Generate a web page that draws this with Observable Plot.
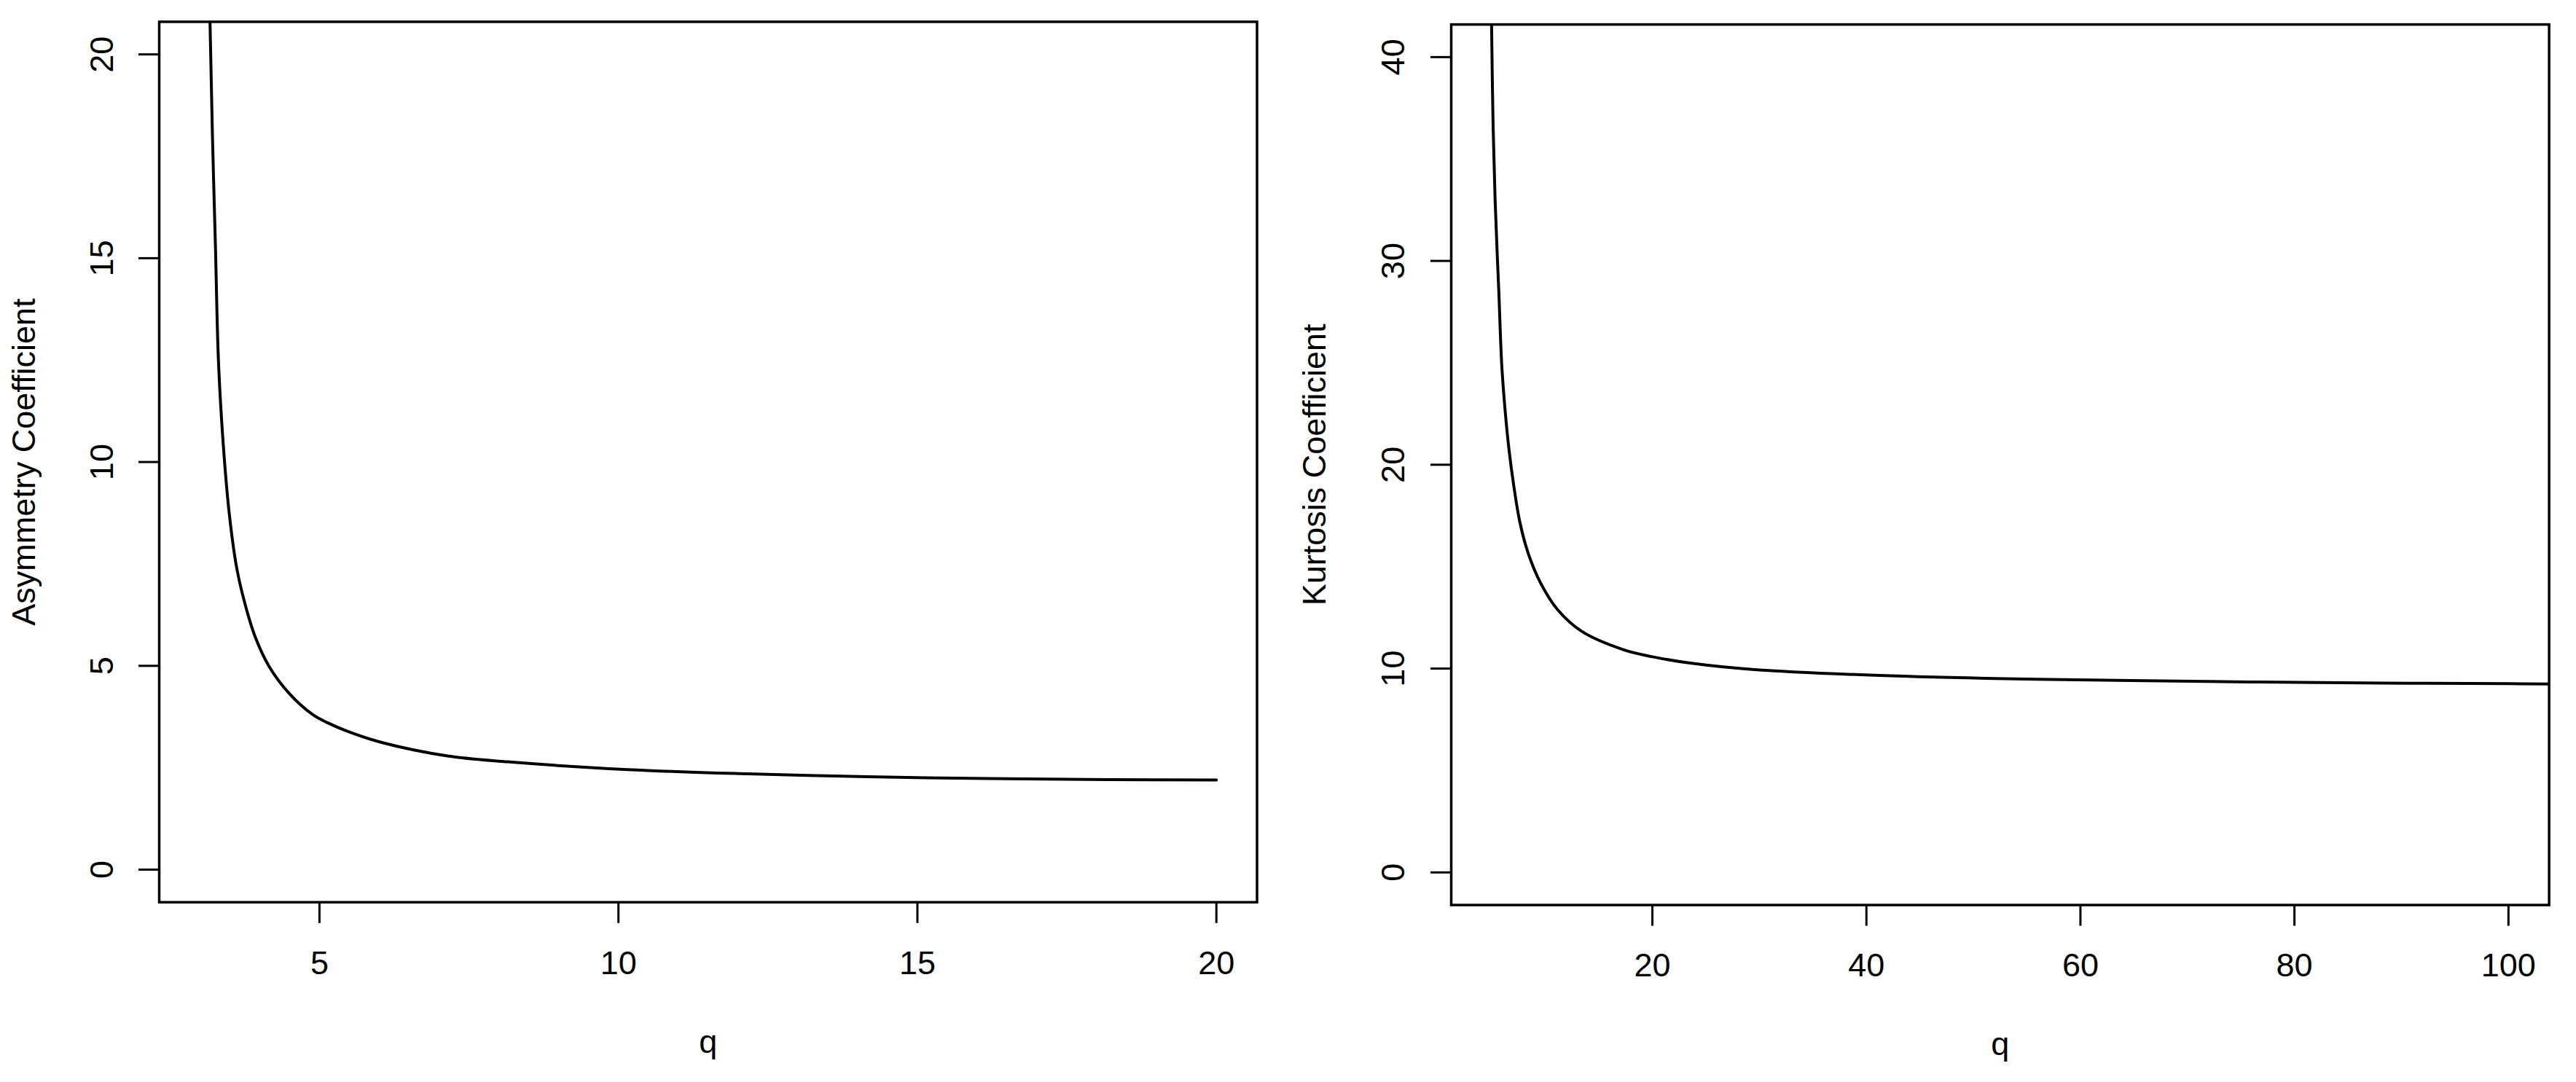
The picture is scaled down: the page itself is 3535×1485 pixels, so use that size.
<!DOCTYPE html>
<html>
<head>
<meta charset="utf-8">
<script src="https://cdn.jsdelivr.net/npm/d3@7"></script>
<script src="https://cdn.jsdelivr.net/npm/@observablehq/plot@0.6"></script>
<style>
  html, body { margin: 0; padding: 0; background: #ffffff; }
  #wrap { display: flex; width: 3535px; height: 1485px; }
</style>
</head>
<body>
<div id="wrap"></div>
<script>
// ---- Data ----
const asymQ = [3.15, 3.17, 3.21, 3.26, 3.31, 3.39, 3.49, 3.61, 3.74, 3.92, 4.16, 4.49, 4.89, 5.14, 5.46, 6.04, 7.14, 8.15, 10.15, 12.16, 14.16, 16.17, 18.17, 20.0];
const asymV = [21.5, 20.75, 18.0, 15.3, 12.5, 10.45, 8.75, 7.45, 6.6, 5.73, 4.98, 4.33, 3.8, 3.6, 3.4, 3.12, 2.79, 2.645, 2.455, 2.35, 2.28, 2.235, 2.21, 2.20];

const kurtQ = [4.93, 4.97, 5.1, 5.3, 5.5, 5.65, 5.92, 6.26, 6.60, 7.05, 7.62, 8.41, 9.55, 11.14, 13.41, 17.27, 20.0, 23.66, 29.53, 41.26, 52.99, 64.72, 76.45, 88.18, 100, 104];
const kurtV = [43.0, 41.6, 37.0, 33.0, 30.3, 28.47, 24.9, 22.52, 20.74, 18.95, 17.17, 15.63, 14.2, 12.89, 11.82, 10.93, 10.58, 10.26, 9.95, 9.66, 9.5, 9.41, 9.34, 9.29, 9.26, 9.24];

const asymXTicks = [5, 10, 15, 20];
const asymYTicks = [0, 5, 10, 15, 20];
const kurtXTicks = [20, 40, 60, 80, 100];
const kurtYTicks = [0, 10, 20, 30, 40];

const xLabel = "q";
const asymLabel = "Asymmetry Coefficient";
const kurtLabel = "Kurtosis Coefficient";

const asymData = asymQ.map((q, i) => ({q, v: asymV[i]}));
const kurtData = kurtQ.map((q, i) => ({q, v: kurtV[i]}));

const FONT = "'Liberation Sans', Arial, Helvetica, sans-serif";

function panel({data, width, mL, mR, mT, mB, xDomain, yDomain, xTicks, yTicks,
                yLabel, yLabelDx, xLabelDy, yPad, xPad}) {
  return Plot.plot({
    width, height: 1485,
    marginLeft: mL, marginRight: mR, marginTop: mT, marginBottom: mB,
    style: {fontSize: "45px", fontFamily: FONT, background: "#ffffff", color: "#000000"},
    x: {domain: xDomain},
    y: {domain: yDomain},
    marks: [
      Plot.axisX({ticks: xTicks, tickSize: 29, tickPadding: xPad, strokeWidth: 3,
                  tickFormat: d => String(d), label: null, fill: "#000"}),
      Plot.axisY({ticks: yTicks, tickSize: 28, tickPadding: yPad, tickRotate: -90, strokeWidth: 3,
                  tickFormat: d => String(d), label: null, fill: "#000"}),
      Plot.line(data, {x: "q", y: "v", curve: "catmull-rom", stroke: "#000", strokeWidth: 4, clip: true}),
      Plot.frame({stroke: "#000", strokeWidth: 3.5}),
      Plot.text([xLabel], {frameAnchor: "bottom", dy: xLabelDy, lineAnchor: "bottom", fill: "#000"}),
      Plot.text([yLabel], {frameAnchor: "left", rotate: -90, dx: yLabelDx, lineAnchor: "top", textAnchor: "middle", fill: "#000"})
    ]
  });
}

const left = panel({
  data: asymData, width: 1767, mL: 218, mR: 42.5, mT: 29.4, mB: 247.2,
  xDomain: [2.32, 20.68], yDomain: [-0.8, 20.8],
  xTicks: asymXTicks, yTicks: asymYTicks,
  yLabel: asymLabel, yLabelDx: -202.7, xLabelDy: 206.7, yPad: 36, xPad: 38
});

const right = panel({
  data: kurtData, width: 1768, mL: 224, mR: 37.4, mT: 33.1, mB: 243.4,
  xDomain: [1.2, 103.8], yDomain: [-1.6, 41.6],
  xTicks: kurtXTicks, yTicks: kurtYTicks,
  yLabel: kurtLabel, yLabelDx: -204.3, xLabelDy: 206.2, yPad: 37, xPad: 37.4
});

const wrap = document.getElementById("wrap");
wrap.appendChild(left);
wrap.appendChild(right);
</script>
</body>
</html>
